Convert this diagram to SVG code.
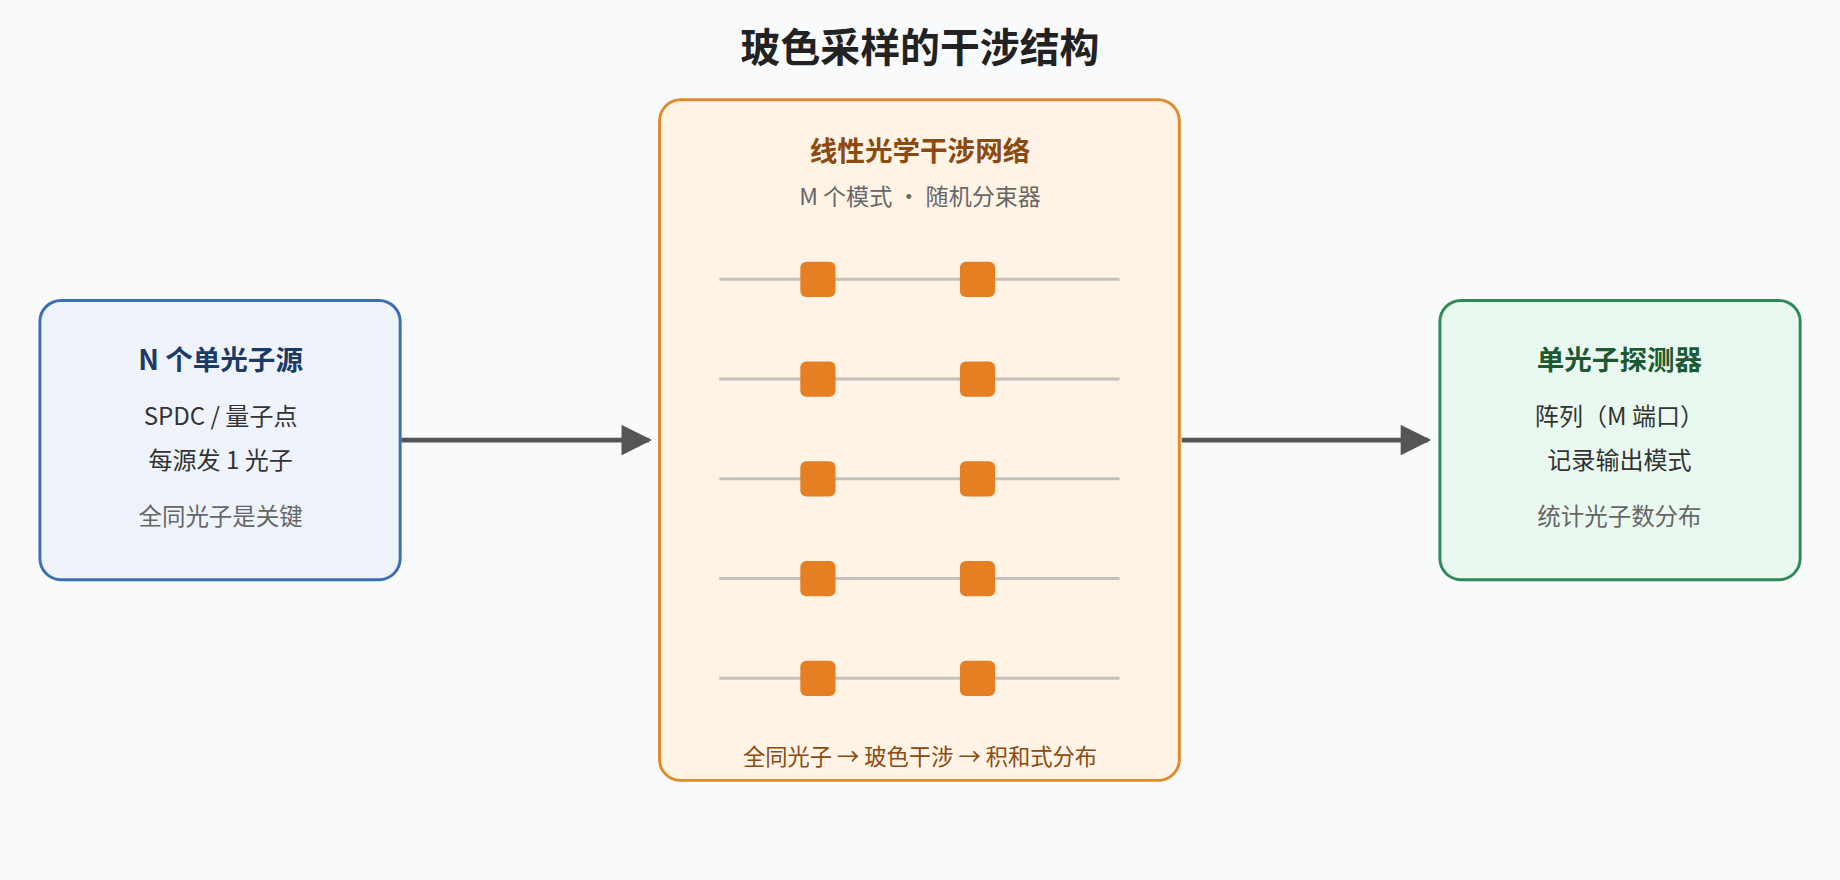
<svg xmlns="http://www.w3.org/2000/svg" width="1840" height="880" viewBox="0 0 1840 880">
<style>
text{font-family:"Noto Sans CJK SC","Noto Sans",sans-serif;text-anchor:middle}
.t{font-weight:bold;font-size:23.5px}
.b{font-size:20.5px;fill:#333}
.g{font-size:20px;fill:#666}
.w{stroke:#c4c0bc;stroke-width:2.5}
.sq{fill:#e67e22}
.c{stroke:#555;stroke-width:4;fill:none}
</style>
<defs><marker id="a" viewBox="0 0 10 10" refX="9" refY="5" markerWidth="8.5" markerHeight="6.5" orient="auto"><path d="M0,0L10,5L0,10z" fill="#555"/></marker></defs>
<rect width="1840" height="880" fill="#f9fafc"/>
<g transform="scale(1.1735)">
<text x="784" y="53" style="font-size:34px;font-weight:bold;fill:#222">玻色采样的干涉结构</text>
<g id="connectors">
<line class="c" x1="342" y1="375" x2="553" y2="375" marker-end="url(#a)"/>
<line class="c" x1="1007" y1="375" x2="1217" y2="375" marker-end="url(#a)"/>
</g>
<g id="source">
<rect x="34" y="256" width="307" height="238" rx="18" fill="#eff4fc" stroke="#3d6eb5" stroke-width="2.5"/>
<text class="t" x="188" y="315" fill="#1b3a66">N 个单光子源</text>
<text class="b" x="188" y="362">SPDC / 量子点</text>
<text class="b" x="188" y="400">每源发 1 光子</text>
<text class="g" x="188" y="447">全同光子是关键</text>
</g>
<g id="network">
<rect x="562" y="85" width="443" height="580" rx="18" fill="#fff3e5" stroke="#e08a2e" stroke-width="2.5"/>
<text class="t" x="784" y="137" fill="#8a4a10">线性光学干涉网络</text>
<text x="784" y="175" style="font-size:19.5px;fill:#666" textLength="206" lengthAdjust="spacingAndGlyphs">M 个模式 · 随机分束器</text>
<g>
<line class="w" x1="613" y1="238" x2="954" y2="238"/><rect class="sq" x="682" y="223" width="30" height="30" rx="5"/><rect class="sq" x="818" y="223" width="30" height="30" rx="5"/>
<line class="w" x1="613" y1="323" x2="954" y2="323"/><rect class="sq" x="682" y="308" width="30" height="30" rx="5"/><rect class="sq" x="818" y="308" width="30" height="30" rx="5"/>
<line class="w" x1="613" y1="408" x2="954" y2="408"/><rect class="sq" x="682" y="393" width="30" height="30" rx="5"/><rect class="sq" x="818" y="393" width="30" height="30" rx="5"/>
<line class="w" x1="613" y1="493" x2="954" y2="493"/><rect class="sq" x="682" y="478" width="30" height="30" rx="5"/><rect class="sq" x="818" y="478" width="30" height="30" rx="5"/>
<line class="w" x1="613" y1="578" x2="954" y2="578"/><rect class="sq" x="682" y="563" width="30" height="30" rx="5"/><rect class="sq" x="818" y="563" width="30" height="30" rx="5"/>
</g>
<text x="784" y="652" style="font-size:19px;fill:#8a4a10">全同光子 → 玻色干涉 → 积和式分布</text>
</g>
<g id="detector">
<rect x="1227" y="256" width="307" height="238" rx="18" fill="#eaf9ef" stroke="#2e8b57" stroke-width="2.5"/>
<text class="t" x="1380" y="315" fill="#1d5a34">单光子探测器</text>
<text class="b" x="1380" y="362">阵列（M 端口）</text>
<text class="b" x="1380" y="400">记录输出模式</text>
<text class="g" x="1380" y="447">统计光子数分布</text>
</g>
</g>
</svg>
